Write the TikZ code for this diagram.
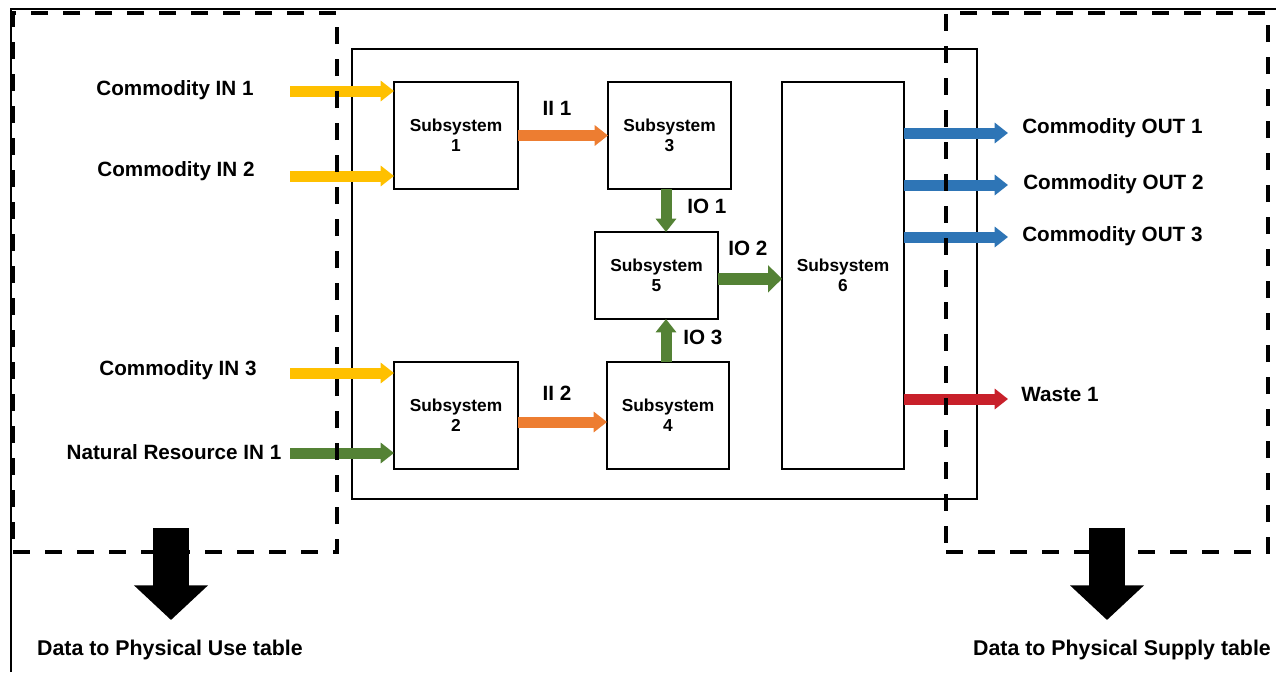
\documentclass[tikz,border=0pt]{standalone}
\usepackage{fontspec}
\setmainfont{Liberation Sans}
\usetikzlibrary{arrows.meta}

\definecolor{inyellow}{RGB}{255,192,0}
\definecolor{iiorange}{RGB}{237,125,49}
\definecolor{iogreen}{RGB}{84,130,53}
\definecolor{outblue}{RGB}{46,117,182}
\definecolor{wastered}{RGB}{200,32,42}

\tikzset{
  subbox/.style={draw, line width=1.1pt, fill=white, align=center, inner sep=0pt, outer sep=0pt,
    font=\bfseries\fontsize{13}{15}\selectfont},
  regionbox/.style={draw, line width=3pt, dash pattern=on 13pt off 11pt, inner sep=0pt, outer sep=0pt},
  flow/.style={line width=8.25pt, -{Triangle[width=15pt,length=10pt]}},
  bigflow/.style={line width=27pt, -{Triangle[width=54pt,length=26pt]}},
  lbl/.style={font=\bfseries\fontsize{15.5}{18}\selectfont, inner sep=0pt},
  tablbl/.style={font=\bfseries\fontsize{16}{19}\selectfont, inner sep=0pt},
}

\begin{document}
\begin{tikzpicture}[x=0.75pt,y=0.75pt,yscale=-1,xscale=1]
\useasboundingbox (0,0) rectangle (1276,672);

%Straight Lines (outer frame)
\draw [line width=1.5pt]  (11,672) -- (11,9) -- (1276,9) ;

%Shape: Rectangle (system)
\node [draw, line width=0.9pt, minimum width=468.75pt, minimum height=337.5pt, inner sep=0pt, outer sep=0pt] (sys) at (664.5,274) {};

%Shape: Rectangle (subsystems)
\node [subbox, minimum width=93pt, minimum height=80.25pt] (sub1) at (456,135.5) {Subsystem\\1};
\node [subbox, minimum width=92.25pt, minimum height=80.25pt] (sub3) at (669.5,135.5) {Subsystem\\3};
\node [subbox, minimum width=92.25pt, minimum height=65.25pt] (sub5) at (656.5,275.5) {Subsystem\\5};
\node [subbox, minimum width=91.5pt, minimum height=290.25pt] (sub6) at (843,275.5) {Subsystem\\6};
\node [subbox, minimum width=93pt, minimum height=80.25pt] (sub2) at (456,415.5) {Subsystem\\2};
\node [subbox, minimum width=91.5pt, minimum height=80.25pt] (sub4) at (668,415.5) {Subsystem\\4};

% free ends of the flows
\coordinate (in1) at (290,91);
\coordinate (in2) at (290,176);
\coordinate (in3) at (290,373);
\coordinate (nr1) at (290,453);
\coordinate (out1) at (1008,133);
\coordinate (out2) at (1008,185);
\coordinate (out3) at (1008,237);
\coordinate (w1) at (1008,399);
\coordinate (iox) at (666,300);
\coordinate (ii2y) at (560,422);

%Straight Lines (inputs)
\draw [flow, inyellow]  (in1) -- (in1 -| sub1.west) ;
\draw [flow, inyellow]  (in2) -- (in2 -| sub1.west) ;
\draw [flow, inyellow]  (in3) -- (in3 -| sub2.west) ;
\draw [flow, iogreen]  (nr1) -- (nr1 -| sub2.west) ;
%Straight Lines (internal flows)
\draw [flow, iiorange]  (sub1.east) -- (sub3.west) ;
\draw [flow, iiorange]  (ii2y -| sub2.east) -- (ii2y -| sub4.west) ;
\draw [flow, iogreen]  (iox |- sub3.south) -- (iox |- sub5.north) ;
\draw [flow, iogreen]  (iox |- sub4.north) -- (iox |- sub5.south) ;
\draw [iogreen, line width=9pt, -{Triangle[width=20pt,length=10.5pt]}]  ([yshift=2.5]sub5.east) -- ([yshift=2.5]sub6.west) ;
%Straight Lines (outputs)
\draw [flow, outblue]  (out1 -| sub6.east) -- (out1) ;
\draw [flow, outblue]  (out2 -| sub6.east) -- (out2) ;
\draw [flow, outblue]  (out3 -| sub6.east) -- (out3) ;
\draw [flow, wastered]  (w1 -| sub6.east) -- (w1) ;

%Shape: Rectangle (use / supply regions)
\node [regionbox, minimum width=243pt, minimum height=404.25pt] (use) at (175,282.5) {};
\node [regionbox, minimum width=241.5pt, minimum height=404.25pt] (supply) at (1107,282.5) {};

% Text Node
\node [lbl] (lin1) at (175,90) {Commodity IN 1};
% Text Node
\node [lbl] (lin2) at (176,171) {Commodity IN 2};
% Text Node
\node [lbl] (lin3) at (178,370) {Commodity IN 3};
% Text Node
\node [lbl] (lnr1) at (174,452) {Natural Resource IN 1};
% Text Node
\node [lbl] (lii1) at (557,108) {II 1};
% Text Node
\node [lbl] (lii2) at (557,393) {II 2};
% Text Node
\node [lbl, anchor=west] (lio1) at (687,206) {IO 1};
% Text Node
\node [lbl, anchor=west] (lio2) at (728,248) {IO 2};
% Text Node
\node [lbl, anchor=west] (lio3) at (683,337) {IO 3};
% Text Node
\node [lbl, anchor=west] (lout1) at (1022,128) {Commodity OUT 1};
% Text Node
\node [lbl, anchor=west] (lout2) at (1023,184) {Commodity OUT 2};
% Text Node
\node [lbl, anchor=west] (lout3) at (1022,236) {Commodity OUT 3};
% Text Node
\node [lbl, anchor=west] (lw1) at (1021,394) {Waste 1};

% Text Node
\node [tablbl] (usetab) at (170,650) {Data to Physical Use table};
% Text Node
\node [tablbl] (supplytab) at (1122,650) {Data to Physical Supply table};

%Straight Lines (to the tables)
\coordinate (usefrom) at (171,528);
\coordinate (useto) at (171,620);
\coordinate (supplyfrom) at (1107,528);
\coordinate (supplyto) at (1107,620);
\draw [bigflow]  (usefrom) -- (useto) ;
\draw [bigflow]  (supplyfrom) -- (supplyto) ;

\end{tikzpicture}
\end{document}
